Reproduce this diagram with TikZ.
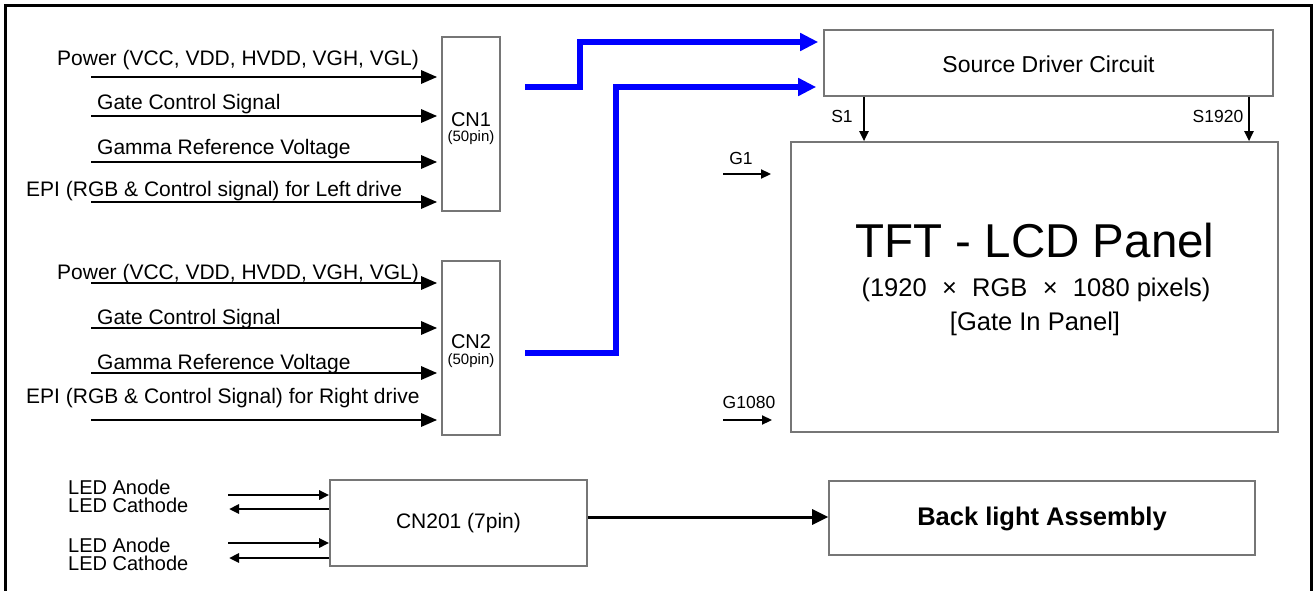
\documentclass[tikz,border=0pt]{standalone}
\usepackage{fontspec}
\setmainfont{Liberation Sans}
\usetikzlibrary{arrows.meta}
\newcommand\myfs[1]{\fontsize{#1}{#1}\selectfont}
\definecolor{boxgray}{RGB}{118,118,118}
\definecolor{sigblue}{RGB}{0,0,255}
\begin{document}
\begin{tikzpicture}[x=1pt,y=-1pt,
  box/.style={draw=boxgray, line width=1.6pt, inner sep=0pt, fill=white},
  lbl/.style={font=\myfs{21}, inner sep=0pt},
  small/.style={font=\myfs{17.5}, inner sep=0pt},
  inarrow/.style={line width=2.8pt, -{Triangle[length=16pt,width=13pt]}},
  thinarrow/.style={line width=2.2pt, -{Triangle[length=10pt,width=9pt]}},
  ledarrow/.style={line width=2.6pt, -{Triangle[length=10pt,width=9pt]}},
  bigarrow/.style={line width=3pt, -{Triangle[length=16pt,width=15pt]}},
  bluearrow/.style={draw=sigblue, line width=6pt, miter limit=10, -{Triangle[length=18pt,width=17pt]}},
]
\useasboundingbox (0,0) rectangle (1316,591);
% outer frame (open at the bottom)
\draw[line width=3pt] (5,591) -- (5,6) -- (1311,6) -- (1311,591);

% boxes
\node[box, minimum width=58pt, minimum height=174pt] (cn1) at (471,124) {};
\node[box, minimum width=58pt, minimum height=174pt] (cn2) at (471,348) {};
\node[box, minimum width=449pt, minimum height=66pt] (src) at (1048.5,63) {};
\node[box, minimum width=487pt, minimum height=290pt] (panel) at (1034.5,287) {};
\node[box, minimum width=257pt, minimum height=86pt] (cn201) at (458.5,523) {};
\node[box, minimum width=426pt, minimum height=74pt] (bl) at (1042,518) {};

% box texts
\node[lbl, anchor=base, font=\myfs{20}] (cn1t) at (471,126) {CN1};
\node[lbl, anchor=base, font=\myfs{15}] (cn1p) at (471,142) {(50pin)};
\node[lbl, anchor=base, font=\myfs{20}] (cn2t) at (471,348) {CN2};
\node[lbl, anchor=base, font=\myfs{15}] (cn2p) at (471,364) {(50pin)};
\node[lbl, font=\myfs{23}] (srct) at (1048.5,64) {Source Driver Circuit};
\node[lbl, anchor=base, font=\myfs{47.5}] (tft1) at (1035,257) {TFT - LCD Panel};
\node[lbl, anchor=base, font=\myfs{25.5}] (tft2) at (1036,296) {(1920\hspace{0.6em}×\hspace{0.6em}RGB\hspace{0.6em}×\hspace{0.6em}1080 pixels)};
\node[lbl, anchor=base, font=\myfs{25.5}] (tft3) at (1035,330) {[Gate In Panel]};
\node[lbl, font=\myfs{21}] (cn201t) at (458.5,523) {CN201 (7pin)};
\node[lbl, font=\bfseries\myfs{25.5}] (blt) at (1042,519) {Back light Assembly};

% CN1 inputs
\node[lbl, anchor=base west] (p1) at (57,66) {Power (VCC, VDD, HVDD, VGH, VGL)};
\node[lbl, anchor=base west] (g1l) at (97,110) {Gate Control Signal};
\node[lbl, anchor=base west] (m1) at (97,154) {Gamma Reference Voltage};
\node[lbl, anchor=base west] (e1) at (26,196) {EPI (RGB \& Control signal) for Left drive};
\coordinate (a1) at (91,77);
\coordinate (a2) at (91,116);
\coordinate (a3) at (91,162);
\coordinate (a4) at (91,202);
\foreach \c in {a1,a2,a3,a4}
  \draw[inarrow, shorten >=4pt] (\c) -- (cn1.west |- \c);

% CN2 inputs
\node[lbl, anchor=base west] (p2) at (57,279) {Power (VCC, VDD, HVDD, VGH, VGL)};
\node[lbl, anchor=base west] (g2l) at (97,324) {Gate Control Signal};
\node[lbl, anchor=base west] (m2) at (97,369) {Gamma Reference Voltage};
\node[lbl, anchor=base west] (e2) at (26,403) {EPI (RGB \& Control Signal) for Right drive};
\coordinate (b1) at (91,283);
\coordinate (b2) at (91,328);
\coordinate (b3) at (91,373);
\coordinate (b4) at (91,420);
\foreach \c in {b1,b2,b3,b4}
  \draw[inarrow, shorten >=4pt] (\c) -- (cn2.west |- \c);

% blue data buses
\coordinate (u1) at (525,87);
\coordinate (u2) at (525,353);
\draw[bluearrow, shorten >=5pt] (u1) -- (580,87) -- (580,42) -- (src.west |- 0,42);
\draw[bluearrow, shorten >=7pt] (u2) -- (616,353) -- (616,87) -- (src.west |- 0,87);

% source outputs
\node[small, anchor=base] (s1) at (842,123) {S1};
\node[small, anchor=base] (s1920) at (1218,123) {S1920};
\draw[thinarrow] (src.south -| 864,0) -- (panel.north -| 864,0);
\draw[thinarrow] (src.south -| 1249,0) -- (panel.north -| 1249,0);

% gate signals
\node[small, anchor=base] (g1) at (741,164) {G1};
\node[small, anchor=base] (g1080) at (749,408) {G1080};
\coordinate (gs1) at (723,174);
\coordinate (ge1) at (771,174);
\coordinate (gs2) at (723,420);
\coordinate (ge2) at (772,420);
\draw[thinarrow] (gs1) -- (ge1);
\draw[thinarrow] (gs2) -- (ge2);

% LED lines
\node[lbl, anchor=base west, font=\myfs{20}] (la1) at (68,494) {LED Anode};
\node[lbl, anchor=base west, font=\myfs{20}] (lc1) at (68,512) {LED Cathode};
\node[lbl, anchor=base west, font=\myfs{20}] (la2) at (68,552) {LED Anode};
\node[lbl, anchor=base west, font=\myfs{20}] (lc2) at (68,570) {LED Cathode};
\coordinate (l1) at (228,495);
\coordinate (l2) at (229,509);
\coordinate (l3) at (228,543);
\coordinate (l4) at (229,558);
\draw[ledarrow] (l1) -- (cn201.west |- l1);
\draw[ledarrow] (cn201.west |- l2) -- (l2);
\draw[ledarrow] (l3) -- (cn201.west |- l3);
\draw[ledarrow] (cn201.west |- l4) -- (l4);

% CN201 to back light
\draw[bigarrow] (cn201.east |- 0,517) -- (bl.west |- 0,517);
\end{tikzpicture}
\end{document}
